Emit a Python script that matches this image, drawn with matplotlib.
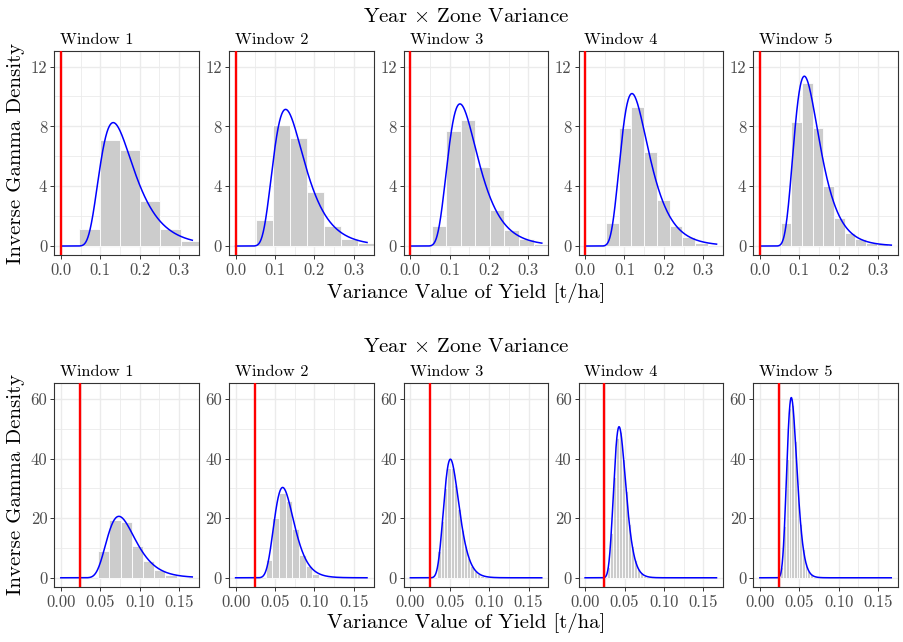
"""
Inverse gamma posterior densities of the year x zone variance, per window
"""

import math
import numpy as np
import matplotlib
matplotlib.use("Agg")
from matplotlib import pyplot as plt

# panel names
windows = ["Window 1", "Window 2", "Window 3", "Window 4", "Window 5"]

# top row: histogram bins (first left edge, bin width) and bar heights
top_bin_start = [0.047, 0.052, 0.054, 0.053, 0.0525]
top_bin_width = [0.0515, 0.0433, 0.037, 0.0323, 0.0272]
top_heights = [
    [1.14, 7.09, 6.45, 3.03, 1.14, 0.36],
    [1.76, 8.07, 7.23, 3.61, 1.34, 0.50, 0.18],
    [1.34, 7.72, 8.43, 5.26, 2.41, 1.07, 0.45, 0.16],
    [1.57, 7.91, 9.30, 6.26, 3.09, 1.35, 0.60, 0.22],
    [1.56, 8.30, 10.93, 7.92, 3.99, 1.87, 0.87, 0.45, 0.22, 0.12, 0.06],
]
# top row: inverse gamma shape / scale, red reference line
top_shape = [8.6, 9.5, 10.05, 10.3, 11.4]
top_scale = [1.277, 1.3335, 1.392, 1.345, 1.401]
top_ref = 0.0
top_xmax = 0.334

# bottom row
bottom_bin_start = [0.0475, 0.0382, 0.0343, 0.0275, 0.0262]
bottom_bin_width = [0.0142, 0.00847, 0.0042, 0.0038, 0.0034]
bottom_heights = [
    [9.0, 19.4, 18.6, 10.8, 5.6, 2.6, 0.95, 0.3],
    [5.8, 20.2, 28.5, 25.8, 16.5, 7.8, 4.1, 1.3, 0.4],
    [9.0, 19.0, 30.0, 37.0, 37.0, 31.0, 23.0, 16.0, 10.5, 6.5, 4.0, 2.3, 1.3, 0.6],
    [3.5, 15.0, 34.0, 47.0, 49.0, 40.0, 29.0, 18.0, 10.5, 6.0, 3.0, 1.5, 0.7],
    [3.6, 17.5, 40.0, 57.0, 58.0, 46.0, 31.0, 18.0, 9.8, 4.9, 2.4, 1.1],
]
bottom_shape = [15.57, 21.7, 26.83, 31.15, 37.75]
bottom_scale = [1.2196, 1.355, 1.4138, 1.3857, 1.5461]
bottom_ref = 0.0244
bottom_xmax = 0.1667

plt.rcParams["font.family"] = ["cmr10"]
plt.rcParams["mathtext.fontset"] = "cm"
plt.rcParams["axes.formatter.use_mathtext"] = True

W, H = 904, 642


def invgamma_pdf(x, a, b):
    """ Inverse gamma density, zero at x <= 0 """
    out = np.zeros_like(x)
    pos = x > 0
    out[pos] = np.exp(a * np.log(b) - math.lgamma(a)
                      - (a + 1) * np.log(x[pos]) - b / x[pos])
    return out


def draw_panel(ax, name, start, width, heights, shape, scale, ref, xmax,
               xlim, ylim, xticks, yticks, xminor, yminor, xfmt):
    """ One window: histogram, density curve and reference line """
    ax.set_axisbelow(True)
    edges = start + width * np.arange(len(heights))
    ax.bar(edges, heights, width=width, align="edge", color="#CCCCCC",
           edgecolor="white", linewidth=0.6, zorder=2)
    x = np.linspace(0, xmax, 600)
    ax.plot(x, invgamma_pdf(x, shape, scale), color="blue", lw=1.1, zorder=3)
    ax.axvline(ref, color="red", lw=1.7, zorder=4)

    ax.set_xlim(xlim)
    ax.set_ylim(ylim)
    ax.set_xticks(xticks)
    ax.set_xticklabels([xfmt.format(t) for t in xticks])
    ax.set_yticks(yticks)
    ax.set_yticklabels([str(t) for t in yticks])
    ax.set_xticks(xminor, minor=True)
    ax.set_yticks(yminor, minor=True)
    ax.grid(which="major", color="#EBEBEB", lw=1.0)
    ax.grid(which="minor", color="#EBEBEB", lw=0.6)
    ax.tick_params(which="major", length=3, width=0.7, color="#333333",
                   labelsize=12, labelcolor="#4D4D4D", pad=2)
    ax.tick_params(which="minor", length=0)
    for sp in ax.spines.values():
        sp.set_color("#333333")
        sp.set_linewidth(0.8)
    ax.annotate(name, xy=(0, 1), xycoords="axes fraction",
                xytext=(4.2, 5.3), textcoords="offset points",
                ha="left", va="baseline", fontsize=11.8, color="black")


fig = plt.figure(figsize=(W / 100, H / 100), dpi=100)

left0 = 54.3
step = 174.75
pw = 144.5

rows = [
    (255.3, top_bin_start, top_bin_width, top_heights, top_shape, top_scale,
     top_ref, top_xmax, (-0.0167, 0.3505), (-0.62, 13.02),
     [0.0, 0.1, 0.2, 0.3], [0, 4, 8, 12], [0.05, 0.15, 0.25],
     [2, 6, 10], "{:.1f}"),
    (587.3, bottom_bin_start, bottom_bin_width, bottom_heights, bottom_shape,
     bottom_scale, bottom_ref, bottom_xmax, (-0.0083, 0.175), (-3.2, 65.3),
     [0.0, 0.05, 0.10, 0.15], [0, 20, 40, 60], [0.025, 0.075, 0.125],
     [10, 30, 50], "{:.2f}"),
]

for r, row in enumerate(rows):
    (bottom_px, starts, widths, heights, shapes, scales, ref, xmax,
     xlim, ylim, xt, yt, xm, ym, fmt) = row
    for i in range(5):
        left = left0 + i * step
        ax = fig.add_axes([left / W, (H - bottom_px) / H, pw / W, 204 / H])
        draw_panel(ax, windows[i], starts[i], widths[i], heights[i],
                   shapes[i], scales[i], ref, xmax, xlim, ylim, xt, yt,
                   xm, ym, fmt)

# row titles and axis labels
for title_y, xlabel_y, ylabel_y in [(21.5, 298, 153), (352.5, 628, 484)]:
    fig.text(466 / W, 1 - title_y / H, r"Year $\times$ Zone Variance",
             ha="center", va="baseline", fontsize=15)
    fig.text(466 / W, 1 - xlabel_y / H, "Variance Value of Yield [t/ha]",
             ha="center", va="baseline", fontsize=15)
    fig.text(16 / W, 1 - ylabel_y / H, "Inverse Gamma Density",
             ha="center", va="center", rotation=90, fontsize=15)

fig.savefig("out.png", dpi=100)
